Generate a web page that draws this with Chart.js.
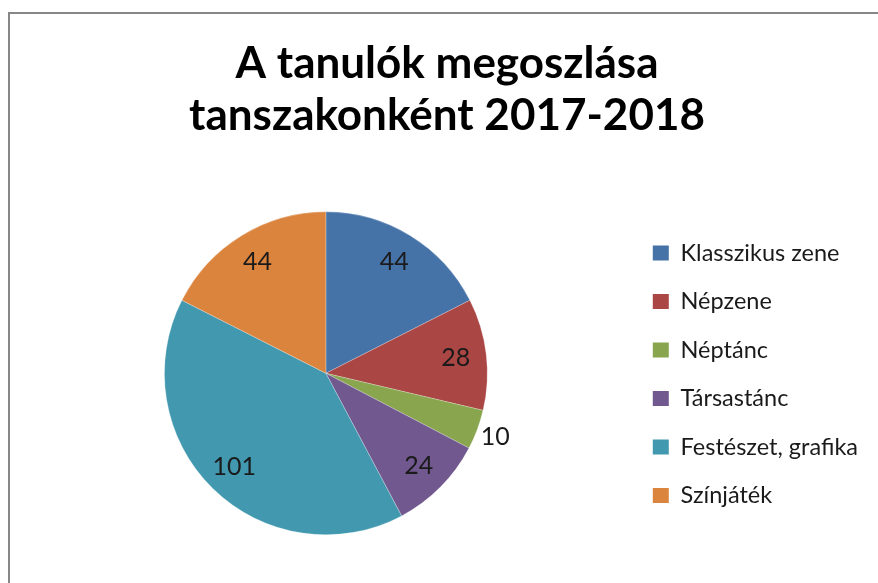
<!DOCTYPE html>
<html>
<head>
<meta charset="utf-8">
<script src="https://cdn.jsdelivr.net/npm/chart.js@4"></script>
<style>
    html, body { margin: 0; padding: 0; background: #fff; overflow: hidden; }
    #frame {
        position: absolute; left: 8px; top: 12px; right: -20px; bottom: -20px;
        border-left: 2px solid #878787; border-top: 2px solid #878787;
    }
    #wrap { position: absolute; left: 0; top: 0; width: 868px; height: 569px; }
</style>
</head>
<body>
<div id="frame"><div id="wrap"><canvas id="pie"></canvas></div></div>
<script>
const titleLines = ['A tanulók megoszlása', 'tanszakonként 2017-2018']
const categories = ['Klasszikus zene', 'Népzene', 'Néptánc', 'Társastánc', 'Festészet, grafika', 'Színjáték']
const students = [44, 28, 10, 24, 101, 44]
const sliceColors = ['#4572A7', '#AA4643', '#89A54E', '#71588F', '#4198AF', '#DB843D']

// value labels: inside the slice, small slices go just outside
const sliceLabels = {
    id: 'sliceLabels',
    afterDatasetsDraw(chart) {
        const ctx = chart.ctx
        const meta = chart.getDatasetMeta(0)
        const data = chart.data.datasets[0].data
        const total = data.reduce((a, b) => a + b, 0)
        ctx.save()
        ctx.font = '25px Lato'
        ctx.fillStyle = '#1a1a1a'
        ctx.textAlign = 'center'
        ctx.textBaseline = 'middle'
        meta.data.forEach((arc, i) => {
            const p = arc.getProps(['x', 'y', 'startAngle', 'endAngle', 'outerRadius'], true)
            const mid = (p.startAngle + p.endAngle) / 2
            const k = data[i] / total < 0.05 ? 1.12 : 0.81
            ctx.fillText(String(data[i]), p.x + Math.cos(mid) * p.outerRadius * k, p.y + Math.sin(mid) * p.outerRadius * k)
        })
        ctx.restore()
    }
}

// title sits a little right of the canvas centre in the original
const nudgeTitle = {
    id: 'nudgeTitle',
    afterLayout(chart) {
        chart.titleBlock.left += 1
        chart.titleBlock.right += 1
    }
}

new Chart(document.getElementById('pie'), {
    type: 'pie',
    data: {
        labels: categories,
        datasets: [{
            data: students,
            backgroundColor: sliceColors,
            borderColor: 'rgba(255,255,255,0.5)',
            borderWidth: 0.5
        }]
    },
    options: {
        responsive: true,
        maintainAspectRatio: false,
        animation: false,
        layout: { padding: { left: 14, right: 10, top: 0, bottom: 48 } },
        plugins: {
            title: {
                display: true,
                text: titleLines,
                color: '#000',
                font: { family: 'Lato', size: 44, weight: 'bold', lineHeight: 1.2 },
                padding: { top: 23, bottom: 69 }
            },
            legend: {
                position: 'right',
                align: 'start',
                title: { display: true, text: '', font: { size: 1 }, padding: { top: 0, bottom: 201 } },
                labels: {
                    color: '#1a1a1a',
                    font: { family: 'Lato', size: 23.5 },
                    boxWidth: 16,
                    boxHeight: 15,
                    padding: 25,
                    generateLabels(chart) {
                        return Chart.overrides.pie.plugins.legend.labels.generateLabels(chart).map(l => {
                            l.lineWidth = 0
                            return l
                        })
                    }
                }
            },
            tooltip: { enabled: false }
        }
    },
    plugins: [sliceLabels, nudgeTitle]
})
</script>
</body>
</html>
